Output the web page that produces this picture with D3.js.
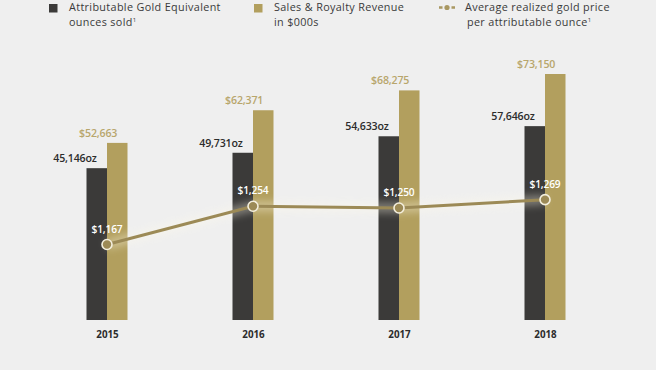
<!DOCTYPE html>
<html>
<head>
<meta charset="utf-8">
<script src="https://cdn.jsdelivr.net/npm/d3@7.9.0/dist/d3.min.js"></script>
<style>
  html, body { margin: 0; padding: 0; background: #efefef; }
  svg { display: block; font-family: "Open Sans", sans-serif; }
</style>
</head>
<body>
<div id="chart"></div>
<script>
// data
const years = ["2015", "2016", "2017", "2018"];
const ounces = [45146, 49731, 54633, 57646];
const revenue = [52663, 62371, 68275, 73150];
const goldPrice = [1167, 1254, 1250, 1269];

const width = 656;
const height = 370;

const darkColor = "#3b3a39";
const goldColor = "#b29f5e";
const goldText = "#b8a66c";
const lineColor = "#9c8a56";

const svg = d3.select("#chart")
  .append("svg")
  .attr("width", width)
  .attr("height", height);

svg.append("rect").attr("width", width).attr("height", height).attr("fill", "#efefef");

// x: centre of each group = border between the two bars
const x = d3.scalePoint().domain(years).range([107, 545]);
const barW = 20.5;

// bars (oz and $000s share one scale)
const y = d3.scaleLinear().domain([0, 73150]).range([320, 74]);
// price line
const yPrice = d3.scaleLinear().domain([1000, 1300]).range([318, 186]);

const defs = svg.append("defs");
const blur = defs.append("filter").attr("id", "glow")
  .attr("x", "-10%").attr("y", "-200%").attr("width", "120%").attr("height", "500%");
blur.append("feGaussianBlur").attr("stdDeviation", 4);

// legend
const legend = svg.append("g").attr("font-size", 10.8).attr("fill", "#3a3a3a").attr("letter-spacing", 0.35);
legend.append("rect").attr("x", 49).attr("y", 4).attr("width", 8.5).attr("height", 8.5).attr("fill", darkColor);
legend.append("text").attr("x", 69).attr("y", 11).text("Attributable Gold Equivalent");
legend.append("text").attr("x", 69).attr("y", 25.5)
  .call(t => { t.append("tspan").text("ounces sold"); t.append("tspan").attr("font-size", 6).attr("dy", -4).text("1"); });

legend.append("rect").attr("x", 254).attr("y", 4).attr("width", 8.5).attr("height", 8.5).attr("fill", goldColor);
legend.append("text").attr("x", 274).attr("y", 11).text("Sales & Royalty Revenue");
legend.append("text").attr("x", 274).attr("y", 25.5).text("in $000s");

legend.append("line").attr("x1", 439).attr("x2", 455).attr("y1", 7.5).attr("y2", 7.5)
  .attr("stroke", "#a99862").attr("stroke-width", 2.5).attr("stroke-dasharray", "3.5,9");
legend.append("circle").attr("cx", 447).attr("cy", 7.5).attr("r", 2.6).attr("fill", "#a99862");
legend.append("text").attr("x", 465).attr("y", 11).text("Average realized gold price");
legend.append("text").attr("x", 467).attr("y", 25.5)
  .call(t => { t.append("tspan").text("per attributable ounce"); t.append("tspan").attr("font-size", 6).attr("dy", -4).text("1"); });

const rows = years.map((yr, i) => ({ yr, oz: ounces[i], rev: revenue[i], price: goldPrice[i] }));

// bars
const g = svg.append("g");
g.selectAll("rect.oz").data(rows).join("rect").attr("class", "oz")
  .attr("x", d => x(d.yr) - barW)
  .attr("y", d => y(d.oz))
  .attr("width", barW)
  .attr("height", d => y(0) - y(d.oz))
  .attr("fill", darkColor);

g.selectAll("rect.rev").data(rows).join("rect").attr("class", "rev")
  .attr("x", d => x(d.yr))
  .attr("y", d => y(d.rev))
  .attr("width", barW)
  .attr("height", d => y(0) - y(d.rev))
  .attr("fill", goldColor);

// value labels
const fmt = d3.format(",");
g.selectAll("text.oz").data(rows).join("text").attr("class", "oz")
  .attr("x", d => x(d.yr) - barW / 2)
  .attr("y", d => y(d.oz) - 6)
  .attr("text-anchor", "end")
  .attr("font-size", 10.6).attr("font-weight", 600).attr("letter-spacing", -0.15).attr("fill", "#2c2c2c")
  .text(d => fmt(d.oz) + "oz");

g.selectAll("text.rev").data(rows).join("text").attr("class", "rev")
  .attr("x", d => x(d.yr) + barW / 2)
  .attr("y", d => y(d.rev) - 6)
  .attr("text-anchor", "end")
  .attr("font-size", 10.6).attr("font-weight", 600).attr("letter-spacing", -0.15).attr("fill", goldText)
  .text(d => "$" + fmt(d.rev));

// price line with soft glow
const line = d3.line().x(d => x(d.yr)).y(d => yPrice(d.price));
g.append("path").datum(rows).attr("d", line)
  .attr("fill", "none").attr("stroke", "#fffbea").attr("stroke-width", 8).attr("opacity", 0.45)
  .attr("filter", "url(#glow)");
g.append("path").datum(rows).attr("d", line)
  .attr("fill", "none").attr("stroke", lineColor).attr("stroke-width", 3);

g.selectAll("circle.pt").data(rows).join("circle").attr("class", "pt")
  .attr("cx", d => x(d.yr)).attr("cy", d => yPrice(d.price)).attr("r", 5)
  .attr("fill", lineColor).attr("stroke", "#f4efdd").attr("stroke-width", 1.6);

g.selectAll("text.price").data(rows).join("text").attr("class", "price")
  .attr("x", d => x(d.yr))
  .attr("y", d => yPrice(d.price) - 12)
  .attr("text-anchor", "middle")
  .attr("font-size", 10.2).attr("font-weight", 600).attr("letter-spacing", -0.15).attr("fill", "#ffffff")
  .text(d => "$" + fmt(d.price));

// year axis labels
const xAxis = d3.axisBottom(x).tickSize(0).tickPadding(11);
svg.append("g").attr("transform", "translate(0,320)").call(xAxis)
  .call(a => a.select(".domain").remove())
  .call(a => a.selectAll("text").attr("font-family", "Open Sans, sans-serif")
    .attr("font-size", 9.8).attr("font-weight", 700).attr("fill", "#2c2c2c"));
</script>
</body>
</html>
